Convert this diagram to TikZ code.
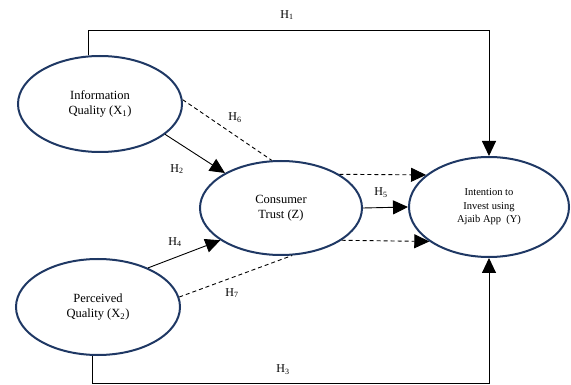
\documentclass[tikz,border=0pt]{standalone}
\usepackage{fontspec}
\setmainfont{Liberation Serif}
\usetikzlibrary{arrows.meta,shapes.geometric}
\definecolor{navy}{HTML}{1F3864}
\begin{document}
\begin{tikzpicture}[x=1pt,y=-1pt,
 var/.style={ellipse,draw=navy,line width=2pt,inner sep=0pt,align=center,font=\fontsize{12.5}{14.5}\selectfont},
 arr/.style={-{Triangle[length=15pt,width=14pt]},line width=0.9pt},
 dsh/.style={dash pattern=on 4pt off 3pt,line width=0.9pt},
 lbl/.style={font=\fontsize{12}{14}\selectfont,inner sep=0pt}]
\useasboundingbox (0,0) rectangle (571,385);
\node[var,minimum width=164pt,minimum height=96pt] (x1) at (100,104) {Information\\Quality (X\textsubscript{1})};
\node[var,minimum width=164pt,minimum height=96pt] (x2) at (98,307) {Perceived\\Quality (X\textsubscript{2})};
\node[var,minimum width=162pt,minimum height=94pt] (z) at (281,208) {Consumer\\Trust (Z)};
\node[var,minimum width=160pt,minimum height=100pt,font=\fontsize{10.5}{13.5}\selectfont] (y) at (489,207) {Intention to\\Invest using\\Ajaib App~~(Y)};
\coordinate (h1c) at (489,30);
\coordinate (h3c) at (489,383);
% H1
\draw[arr] (x1.103) |- (h1c) -- (y.north);
% H3
\draw[arr] (x2.-97) |- (h3c) -- (y.south);
% H2, H4
\draw[arr] (x1.-25) -- (z.148);
\draw[arr] (x2.38) -- (z.-152);
% H5
\draw[arr] (z.east) -- (y.west);
% H6, H7
\draw[dsh] (x1.3) -- (z.101);
\draw[dsh] (x2.7) -- (z.-77);
% mediated dashed arrows
\draw[arr,dsh] (z.30) -- (y.153);
\draw[arr,dsh] (z.-28) -- (y.-150);
% labels
\node[lbl] (l1) at (287,15) {H\textsubscript{1}};
\node[lbl] (l2) at (177,169) {H\textsubscript{2}};
\node[lbl] (l3) at (283,370) {H\textsubscript{3}};
\node[lbl] (l4) at (175,242) {H\textsubscript{4}};
\node[lbl] (l5) at (381,193) {H\textsubscript{5}};
\node[lbl] (l6) at (235,118) {H\textsubscript{6}};
\node[lbl] (l7) at (232,293) {H\textsubscript{7}};
\end{tikzpicture}
\end{document}
